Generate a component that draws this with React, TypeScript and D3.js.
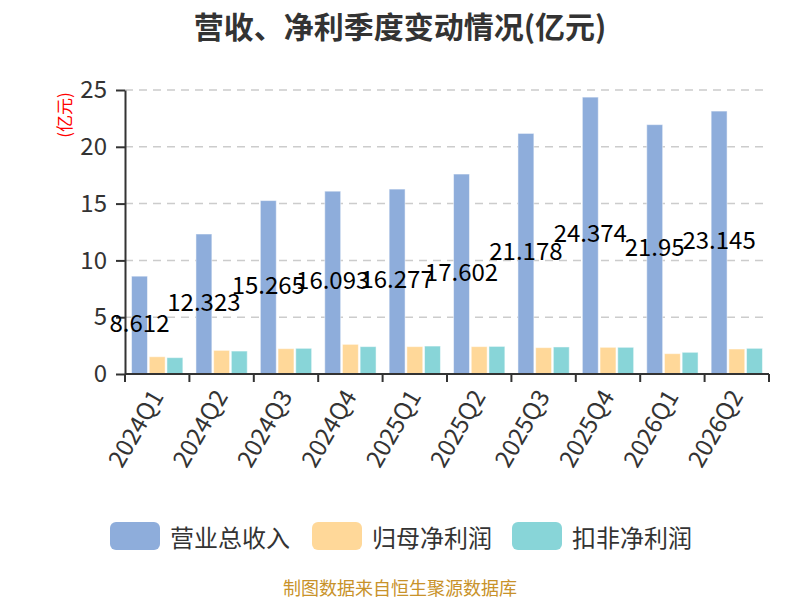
import React, { useEffect, useRef } from "react";
import * as d3 from "d3";

const quarters = [
  "2024Q1", "2024Q2", "2024Q3", "2024Q4", "2025Q1",
  "2025Q2", "2025Q3", "2025Q4", "2026Q1", "2026Q2",
];
const revenue = [8.612, 12.323, 15.265, 16.093, 16.277, 17.602, 21.178, 24.374, 21.95, 23.145];
const netProfit = [1.52, 2.08, 2.23, 2.61, 2.41, 2.41, 2.32, 2.35, 1.79, 2.2];
const deductedProfit = [1.44, 2.02, 2.26, 2.41, 2.46, 2.43, 2.38, 2.35, 1.91, 2.26];
const seriesNames = ["营业总收入", "归母净利润", "扣非净利润"];
const seriesColors = ["#8eaddb", "#ffd899", "#88d5d8"];
const yTicks = [0, 5, 10, 15, 20, 25];

const FONT = "'Noto Sans CJK SC', 'Noto Sans', sans-serif";

const App: React.FC = () => {
  const svgRef = useRef<SVGSVGElement>(null);
  const width = 800;
  const height = 600;

  useEffect(() => {
    if (!svgRef.current) return;
    const svg = d3.select(svgRef.current);
    svg.selectAll("*").remove();

    const left = 125;
    const right = 769;
    const top = 90;
    const bottom = 374;

    const x = d3.scaleBand<string>().domain(quarters).range([left, right]).padding(0);
    const inner = d3
      .scaleBand<number>()
      .domain([0, 1, 2])
      .range([0, x.bandwidth()])
      .paddingInner(0.1)
      .paddingOuter(0.37);
    const y = d3.scaleLinear().domain([0, 25]).range([bottom, top]);

    // title
    svg
      .append("text")
      .attr("x", width / 2)
      .attr("y", 25)
      .attr("text-anchor", "middle")
      .attr("dominant-baseline", "central")
      .style("font-family", FONT)
      .style("font-size", "30px")
      .style("font-weight", "bold")
      .style("fill", "#333")
      .text("营收、净利季度变动情况(亿元)");

    // unit label
    svg
      .append("text")
      .attr("transform", `translate(63, 115) rotate(-90)`)
      .attr("text-anchor", "middle")
      .attr("dominant-baseline", "central")
      .style("font-family", FONT)
      .style("font-size", "17px")
      .style("fill", "#ff0000")
      .text("(亿元)");

    // grid lines
    svg
      .append("g")
      .selectAll("line")
      .data(yTicks.filter((t) => t > 0))
      .enter()
      .append("line")
      .attr("x1", left)
      .attr("x2", right)
      .attr("y1", (d) => y(d))
      .attr("y2", (d) => y(d))
      .attr("stroke", "#cccccc")
      .attr("stroke-width", 1.5)
      .attr("stroke-dasharray", "8,6");

    // bars
    const series = [revenue, netProfit, deductedProfit];
    series.forEach((vals, si) => {
      svg
        .append("g")
        .selectAll("rect")
        .data(vals)
        .enter()
        .append("rect")
        .attr("x", (d, i) => (x(quarters[i]) as number) + (inner(si) as number))
        .attr("y", (d) => y(d))
        .attr("width", inner.bandwidth())
        .attr("height", (d) => y(0) - y(d))
        .attr("fill", seriesColors[si])
        .attr("stroke", "rgba(255,255,255,0.5)")
        .attr("stroke-width", 1);
    });

    // y axis
    const yAxis = svg.append("g").attr("transform", `translate(${left},0)`);
    yAxis
      .call(d3.axisLeft(y).tickValues(yTicks).tickSize(9).tickPadding(9).tickSizeOuter(0))
      .call((g) => g.select(".domain").attr("stroke", "#333").attr("stroke-width", 2))
      .call((g) => g.selectAll(".tick line").attr("stroke", "#333").attr("stroke-width", 2))
      .call((g) =>
        g
          .selectAll(".tick text")
          .style("font-family", FONT)
          .style("font-size", "24px")
          .style("fill", "#333")
      );

    // x axis
    const xAxis = svg.append("g").attr("transform", `translate(0,${bottom})`);
    xAxis
      .append("line")
      .attr("x1", left)
      .attr("x2", right)
      .attr("stroke", "#333")
      .attr("stroke-width", 2);
    const boundaries = quarters.map((q) => x(q) as number).concat([right]);
    xAxis
      .selectAll("line.tick")
      .data(boundaries)
      .enter()
      .append("line")
      .attr("class", "tick")
      .attr("x1", (d) => d)
      .attr("x2", (d) => d)
      .attr("y1", 0)
      .attr("y2", 8)
      .attr("stroke", "#333")
      .attr("stroke-width", 2);
    xAxis
      .selectAll("text")
      .data(quarters)
      .enter()
      .append("text")
      .attr(
        "transform",
        (d) => `translate(${(x(d) as number) + x.bandwidth() / 2 - 2}, 17) rotate(-60)`
      )
      .attr("text-anchor", "end")
      .attr("dominant-baseline", "central")
      .style("font-family", FONT)
      .style("font-size", "24px")
      .style("fill", "#333")
      .text((d) => d);

    // data labels on revenue bars
    svg
      .append("g")
      .selectAll("text")
      .data(revenue)
      .enter()
      .append("text")
      .attr("x", (d, i) => (x(quarters[i]) as number) + (inner(0) as number) + inner.bandwidth() / 2)
      .attr("y", (d) => y(d / 2) - 4)
      .attr("text-anchor", "middle")
      .attr("dominant-baseline", "central")
      .style("font-family", FONT)
      .style("font-size", "24px")
      .style("fill", "#000")
      .text((d) => String(d));

    // legend
    const legendX = [110, 312, 512];
    const legend = svg.append("g");
    seriesNames.forEach((name, i) => {
      legend
        .append("rect")
        .attr("x", legendX[i])
        .attr("y", 522)
        .attr("width", 50)
        .attr("height", 28)
        .attr("rx", 6)
        .attr("fill", seriesColors[i]);
      legend
        .append("text")
        .attr("x", legendX[i] + 60)
        .attr("y", 536)
        .attr("dominant-baseline", "central")
        .style("font-family", FONT)
        .style("font-size", "24px")
        .style("fill", "#333")
        .text(name);
    });

    // footer
    svg
      .append("text")
      .attr("x", width / 2)
      .attr("y", 587)
      .attr("text-anchor", "middle")
      .attr("dominant-baseline", "central")
      .style("font-family", FONT)
      .style("font-size", "18px")
      .style("fill", "#c8922a")
      .text("制图数据来自恒生聚源数据库");
  }, []);

  return (
    <svg
      ref={svgRef}
      width={width}
      height={height}
      viewBox={`0 0 ${width} ${height}`}
      style={{ position: "absolute", left: 0, top: 0, background: "#fff" }}
    />
  );
};

export default App;
